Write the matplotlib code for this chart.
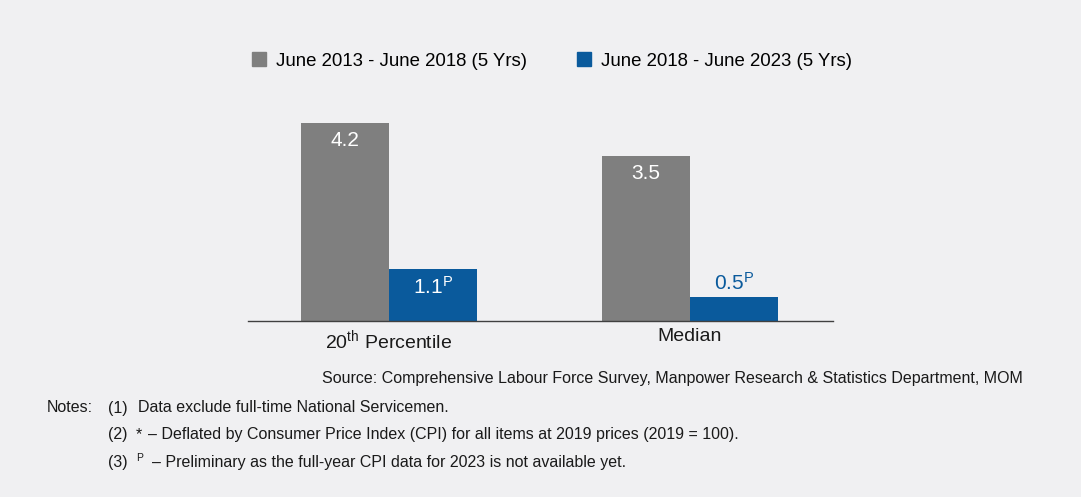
import matplotlib
matplotlib.use('Agg')
import matplotlib.pyplot as plt
from matplotlib.patches import Patch
import numpy as np

# данные
groups = ['20$^{\\mathrm{th}}$ Percentile', 'Median']
series = ['June 2013 - June 2018 (5 Yrs)', 'June 2018 - June 2023 (5 Yrs)']
vals_2013_2018 = [4.2, 3.5]
vals_2018_2023 = [1.1, 0.5]
labels_2013_2018 = ['4.2', '3.5']
labels_2018_2023 = ['1.1$^{\\mathrm{P}}$', '0.5$^{\\mathrm{P}}$']

bg = '#f0f0f2'
gray = '#7f7f7f'
blue = '#0a5a9c'
ink = '#1a1a1a'

plt.rcParams['font.family'] = ['Liberation Sans', 'DejaVu Sans']
plt.rcParams['mathtext.fontset'] = 'custom'
plt.rcParams['mathtext.rm'] = 'Liberation Sans'
plt.rcParams['mathtext.it'] = 'Liberation Sans'

W, H = 1081, 497
fig = plt.figure(figsize=(W / 100, H / 100), dpi=100, facecolor=bg)
ax = fig.add_axes([248 / W, 1 - 321 / H, 585 / W, 221 / H])
ax.set_facecolor(bg)

x = np.arange(len(groups))
w = 0.292
b1 = ax.bar(x - w / 2, vals_2013_2018, w, color=gray)
b2 = ax.bar(x + w / 2, vals_2018_2023, w, color=blue)

ax.set_xlim(-0.468, 1.475)
ax.set_ylim(0, 4.69)

# подписи значений
for rect, txt in zip(b1, labels_2013_2018):
    ax.text(rect.get_x() + rect.get_width() / 2, rect.get_height() - 0.17, txt,
            ha='center', va='top', color='white', fontsize=15)
for rect, txt in zip(b2, labels_2018_2023):
    h = rect.get_height()
    if h > 0.8:
        ax.text(rect.get_x() + rect.get_width() / 2, h - 0.15, txt,
                ha='center', va='top', color='white', fontsize=15)
    else:
        ax.text(rect.get_x() + rect.get_width() / 2, h + 0.08, txt,
                ha='center', va='bottom', color=blue, fontsize=15)

for s in ['top', 'right', 'left']:
    ax.spines[s].set_visible(False)
ax.spines['bottom'].set_color('#404040')
ax.spines['bottom'].set_linewidth(1.0)
ax.set_yticks([])
ax.set_xticks(x)
ax.set_xticklabels(groups, fontsize=14, color=ink)
ax.tick_params(axis='x', length=0, pad=5)

# легенда
handles = [Patch(color=gray), Patch(color=blue)]
fig.legend(handles, series, loc='center', bbox_to_anchor=(552 / W, 1 - 61 / H), ncol=2,
           frameon=False, fontsize=13.4, handlelength=0.75, handleheight=0.75,
           handletextpad=0.55, columnspacing=2.7)

# источник и примечания
fs = 11.5


def note(px, py, txt, size=fs):
    fig.text(px / W, 1 - py / H, txt, ha='left', va='center', fontsize=size, color=ink)


fig.text(1023 / W, 1 - 378 / H,
         'Source: Comprehensive Labour Force Survey, Manpower Research & Statistics Department, MOM',
         ha='right', va='center', fontsize=fs, color=ink)
note(47, 408, 'Notes:')
note(108, 408, '(1)')
note(138, 408, 'Data exclude full-time National Servicemen.')
note(108, 435, '(2)')
note(136, 435, '*')
note(148, 435, '\u2013 Deflated by Consumer Price Index (CPI) for all items at 2019 prices (2019 = 100).')
note(108, 462, '(3)')
note(136, 458, 'P', size=7.5)
note(152, 462, '\u2013 Preliminary as the full-year CPI data for 2023 is not available yet.')

fig.savefig('out.png', dpi=100, facecolor=bg)
